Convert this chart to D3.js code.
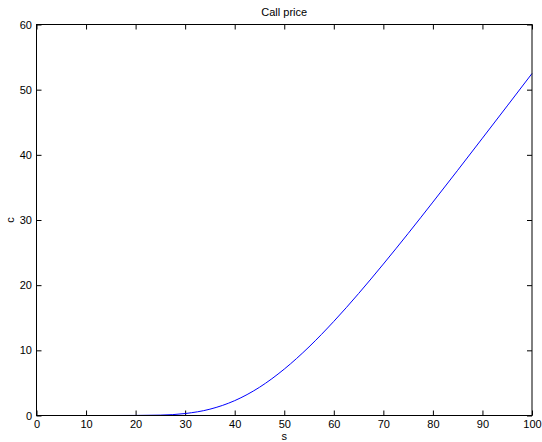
<!DOCTYPE html>
<html>
<head>
<meta charset="utf-8">
<script src="https://cdn.jsdelivr.net/npm/d3@7"></script>
<style>
  html, body { margin: 0; padding: 0; background: #fff; }
  svg { display: block; font-family: "Liberation Sans", Arial, Helvetica, sans-serif; }
</style>
</head>
<body>
<svg id="chart" width="542" height="442"></svg>
<script>
// Underlying price s and call value c
const spotPrices = [0, 5, 10, 15, 20, 25, 30, 35, 40, 45, 50, 55, 60, 65, 70, 75, 80, 85, 90, 95, 100];
const callValues = [0, 0, 0, 0, 0.01, 0.06, 0.30, 0.97, 2.28, 4.33, 7.12, 10.53, 14.44, 18.71, 23.24, 27.93, 32.75, 37.63, 42.56, 47.51, 52.48];
const xTicks = [0, 10, 20, 30, 40, 50, 60, 70, 80, 90, 100];
const yTicks = [0, 10, 20, 30, 40, 50, 60];

const svg = d3.select("#chart");
const margin = { left: 36.5, right: 10, top: 24.5, bottom: 26.5 };
const W = 542, H = 442;

const x = d3.scaleLinear().domain([0, 100]).range([margin.left, W - margin.right]);
const y = d3.scaleLinear().domain([0, 60]).range([H - margin.bottom, margin.top]);

const tickLen = 5;
const fontSize = 11;

// Axes: labelled bottom/left, bare ticks on top/right, all pointing inward
svg.append("g")
  .attr("transform", `translate(0,${y(0)})`)
  .call(d3.axisBottom(x).tickValues(xTicks).tickSizeInner(-tickLen).tickSizeOuter(0).tickPadding(4.5))
  .call(g => g.select(".domain").remove());
svg.append("g")
  .attr("transform", `translate(0,${y(60)})`)
  .call(d3.axisTop(x).tickValues(xTicks).tickSizeInner(-tickLen).tickSizeOuter(0).tickFormat(""))
  .call(g => g.select(".domain").remove());
svg.append("g")
  .attr("transform", `translate(${x(0)},0)`)
  .call(d3.axisLeft(y).tickValues(yTicks).tickSizeInner(-tickLen).tickSizeOuter(0).tickPadding(4.5))
  .call(g => g.select(".domain").remove());
svg.append("g")
  .attr("transform", `translate(${x(100)},0)`)
  .call(d3.axisRight(y).tickValues(yTicks).tickSizeInner(-tickLen).tickSizeOuter(0).tickFormat(""))
  .call(g => g.select(".domain").remove());

svg.selectAll(".tick text")
  .attr("font-size", fontSize)
  .attr("font-family", "Liberation Sans, Arial, sans-serif")
  .attr("fill", "#000");
svg.selectAll(".tick line").attr("stroke", "#000");

// Curve
const pts = spotPrices.map((s, i) => [s, callValues[i]]);
svg.append("path")
  .datum(pts)
  .attr("fill", "none")
  .attr("stroke", "#0000ff")
  .attr("stroke-width", 1)
  .attr("d", d3.line().x(d => x(d[0])).y(d => y(d[1])).curve(d3.curveMonotoneX));

// Frame
svg.append("rect")
  .attr("x", x(0)).attr("y", y(60))
  .attr("width", x(100) - x(0)).attr("height", y(0) - y(60))
  .attr("fill", "none").attr("stroke", "#000").attr("stroke-width", 1);

// Titles
svg.append("text")
  .attr("x", (x(0) + x(100)) / 2).attr("y", 16)
  .attr("text-anchor", "middle").attr("font-size", fontSize)
  .text("Call price");
svg.append("text")
  .attr("x", (x(0) + x(100)) / 2).attr("y", 440)
  .attr("text-anchor", "middle").attr("font-size", fontSize)
  .text("s");
svg.append("text")
  .attr("transform", `translate(14,${(y(0) + y(60)) / 2}) rotate(-90)`)
  .attr("text-anchor", "middle").attr("font-size", fontSize)
  .text("c");
</script>
</body>
</html>
